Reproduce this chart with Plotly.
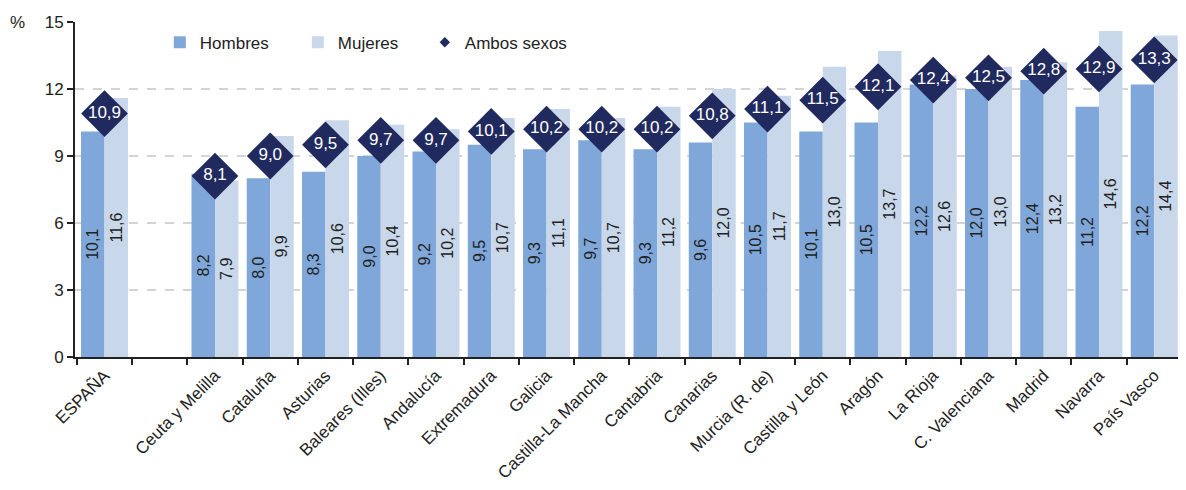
import plotly.graph_objects as go

categories = ["ESPAÑA", " ", "Ceuta y Melilla", "Cataluña", "Asturias", "Baleares (Illes)",
              "Andalucía", "Extremadura", "Galicia", "Castilla-La Mancha", "Cantabria",
              "Canarias", "Murcia (R. de)", "Castilla y León", "Aragón", "La Rioja",
              "C. Valenciana", "Madrid", "Navarra", "País Vasco"]
hombres = [10.1, None, 8.2, 8.0, 8.3, 9.0, 9.2, 9.5, 9.3, 9.7, 9.3, 9.6, 10.5, 10.1, 10.5, 12.2, 12.0, 12.4, 11.2, 12.2]
mujeres = [11.6, None, 7.9, 9.9, 10.6, 10.4, 10.2, 10.7, 11.1, 10.7, 11.2, 12.0, 11.7, 13.0, 13.7, 12.6, 13.0, 13.2, 14.6, 14.4]
ambos = [10.9, None, 8.1, 9.0, 9.5, 9.7, 9.7, 10.1, 10.2, 10.2, 10.2, 10.8, 11.1, 11.5, 12.1, 12.4, 12.5, 12.8, 12.9, 13.3]
y_ticks = [0, 3, 6, 9, 12, 15]


def fmt(v):
    return "" if v is None else f"{v:.1f}".replace(".", ",")


FONT = "Liberation Sans, Arial, sans-serif"
C_H = "#7fa7d9"
C_M = "#c8d8ea"
C_A = "#212a5e"
TXT = "#222222"

fig = go.Figure()
fig.add_trace(go.Bar(
    x=categories, y=hombres, name="Hombres", marker=dict(color=C_H, line=dict(width=0)),
    text=[fmt(v) for v in hombres], textposition="inside", insidetextanchor="middle",
    textangle=-90, textfont=dict(family=FONT, size=16, color=TXT),
    constraintext="none", showlegend=True, legendwidth=93))
fig.add_trace(go.Bar(
    x=categories, y=mujeres, name="Mujeres", marker=dict(color=C_M, line=dict(width=0)),
    text=[fmt(v) for v in mujeres], textposition="inside", insidetextanchor="middle",
    textangle=-90, textfont=dict(family=FONT, size=16, color=TXT),
    constraintext="none", showlegend=True, legendwidth=82))
fig.add_trace(go.Scatter(
    x=categories, y=ambos, mode="markers+text", name="Ambos sexos",
    marker=dict(symbol="diamond", size=36, color=C_A, line=dict(width=0)),
    text=[fmt(v) for v in ambos], textposition="middle center",
    textfont=dict(family=FONT, size=17, color="white"), showlegend=False, cliponaxis=False))
# legend-only entry for the small diamond
fig.add_trace(go.Scatter(
    x=[None], y=[None], mode="markers", name="Ambos sexos",
    marker=dict(symbol="diamond", size=8, color=C_A), showlegend=True, legendwidth=110))

# page body has an 8px margin: compensate so the plot area lands where the reference has it
fig.update_layout(
    width=1170, height=474,
    margin=dict(l=67, r=0, t=14, b=125),
    paper_bgcolor="white", plot_bgcolor="white",
    font=dict(family=FONT, size=17, color=TXT),
    barmode="group", bargap=0.15, bargroupgap=0,
    legend=dict(orientation="h", x=0.0769, y=0.992, xanchor="left", yanchor="top",
                font=dict(family=FONT, size=17, color=TXT),
                bgcolor="rgba(0,0,0,0)", itemsizing="trace", traceorder="normal"),
    showlegend=True,
)
fig.update_xaxes(
    type="category", range=[-0.534, 19.43], tickangle=-45, automargin=False,
    showline=True, linecolor=TXT, linewidth=2,
    ticks="outside", tickson="boundaries", ticklen=6, tickcolor=TXT, tickwidth=2,
    showgrid=False, tickfont=dict(family=FONT, size=17, color=TXT))
fig.update_yaxes(
    range=[0, 15], tickvals=y_ticks, ticktext=[str(t) for t in y_ticks],
    showline=True, linecolor=TXT, linewidth=2,
    ticks="outside", ticklen=6, tickcolor=TXT, tickwidth=2,
    showgrid=True, gridcolor="#d4d4d4", griddash="dash", gridwidth=1.5,
    zeroline=False, tickfont=dict(family=FONT, size=17, color=TXT))
fig.add_annotation(text="%", xref="paper", yref="paper", x=-0.0605, y=1.0,
                   xanchor="left", yanchor="middle", showarrow=False,
                   font=dict(family=FONT, size=17, color=TXT))
fig.write_html("out.html")
